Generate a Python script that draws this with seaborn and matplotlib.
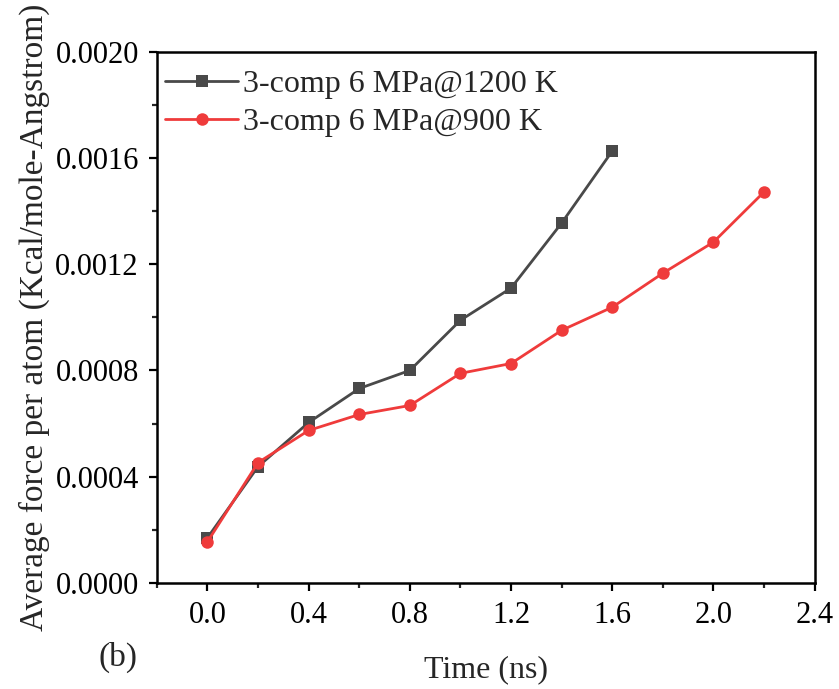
import matplotlib
matplotlib.use("Agg")
import matplotlib.pyplot as plt
from matplotlib.ticker import MultipleLocator, FormatStrFormatter
import seaborn as sns
import pandas as pd

# Simulation time (ns) and average force per atom for each run
time_1200 = [0.0, 0.2, 0.4, 0.6, 0.8, 1.0, 1.2, 1.4, 1.6]
force_1200 = [0.000170, 0.000438, 0.000604, 0.000732, 0.000800,
              0.000989, 0.001110, 0.001355, 0.001626]

time_900 = [0.0, 0.2, 0.4, 0.6, 0.8, 1.0, 1.2, 1.4, 1.6, 1.8, 2.0, 2.2]
force_900 = [0.000155, 0.000453, 0.000574, 0.000634, 0.000668, 0.000789,
             0.000826, 0.000951, 0.001038, 0.001166, 0.001283, 0.001472]

label_1200 = "3-comp 6 MPa@1200 K"
label_900 = "3-comp 6 MPa@900 K"

x_ticks = [0.0, 0.4, 0.8, 1.2, 1.6, 2.0, 2.4]
y_ticks = [0.0, 0.0004, 0.0008, 0.0012, 0.0016, 0.0020]

df = pd.concat([
    pd.DataFrame({"time": time_1200, "force": force_1200, "run": label_1200}),
    pd.DataFrame({"time": time_900, "force": force_900, "run": label_900}),
], ignore_index=True)

sns.set_style("ticks")
plt.rcParams["font.family"] = ["Liberation Serif", "DejaVu Serif"]

fig = plt.figure(figsize=(8.39, 6.89), dpi=100)
ax = fig.add_axes([0.187, 0.154, 0.784, 0.771])

palette = {label_1200: "#494949", label_900: "#ef3b3b"}
markers = {label_1200: "s", label_900: "o"}

sns.lineplot(data=df, x="time", y="force", hue="run", style="run",
             hue_order=[label_1200, label_900], palette=palette,
             markers=markers, dashes=False, markersize=9, linewidth=2.0,
             markeredgewidth=0, ax=ax)

ax.set_xlim(-0.2, 2.4)
ax.set_ylim(0.0, 0.0020)
ax.set_xticks(x_ticks)
ax.set_yticks(y_ticks)
ax.xaxis.set_minor_locator(MultipleLocator(0.2))
ax.yaxis.set_minor_locator(MultipleLocator(0.0002))
ax.xaxis.set_major_formatter(FormatStrFormatter("%.1f"))
ax.yaxis.set_major_formatter(FormatStrFormatter("%.4f"))

ax.tick_params(axis="both", which="major", direction="out", length=6,
               width=1.6, labelsize=22, colors="black", pad=7)
ax.tick_params(axis="both", which="minor", direction="out", length=3.5,
               width=1.6)
ax.tick_params(top=False, right=False, which="both")

for side in ["left", "right", "top", "bottom"]:
    ax.spines[side].set_visible(True)
    ax.spines[side].set_linewidth(1.8)
    ax.spines[side].set_color("black")

ax.set_xlabel("Time (ns)", fontsize=23, labelpad=18)
ax.set_ylabel("Average force per atom (Kcal/mole-Angstrom)", fontsize=24,
              labelpad=4)

ax.legend(loc="upper left", frameon=False, fontsize=23, handlelength=2.3,
          handletextpad=0.15, borderaxespad=0.0, borderpad=0.25,
          labelspacing=0.27, bbox_to_anchor=(0.0, 0.981))

fig.text(0.141, 0.046, "(b)", fontsize=24, ha="center", va="center")

fig.savefig("out.png", dpi=100)
